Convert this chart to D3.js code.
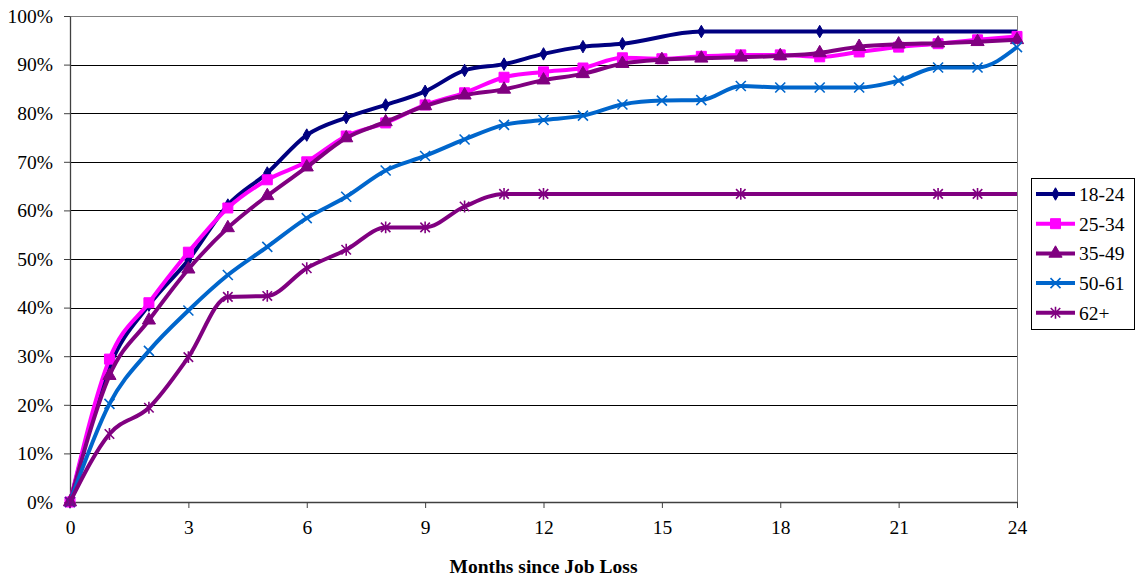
<!DOCTYPE html>
<html>
<head>
<meta charset="utf-8">
<script src="https://cdn.jsdelivr.net/npm/d3@7"></script>
<style>
  html, body { margin: 0; padding: 0; background: #fff; overflow: hidden; }
  svg { display: block; }
  text { font-family: "Liberation Serif", "Times New Roman", serif; fill: #000; }
</style>
</head>
<body>
<div id="chart"></div>
<script>
const width = 1136;
const height = 582;
const margin = { top: 16, right: 119, bottom: 80, left: 70 };
const innerWidth = width - margin.left - margin.right;
const innerHeight = height - margin.top - margin.bottom;

// share re-employed (%) by months since job loss, per age group
const seriesNames = ["18-24", "25-34", "35-49", "50-61", "62+"];

const monthsAll = d3.range(0, 25);

const months1824 = [0, 1, 2, 3, 4, 5, 6, 7, 8, 9, 10, 11, 12, 13, 14, 16, 19, 24];
const values1824 = [0, 27.8, 40.5, 49.8, 61.1, 67.7, 75.5, 79.1, 81.7, 84.5, 88.8, 90.1, 92.2, 93.7, 94.3, 96.8, 96.8, 96.8];

const values2534 = [0, 29.4, 41, 51.4, 60.5, 66.3, 70, 75.3, 78, 81.7, 84.2, 87.4, 88.5, 89.3, 91.4, 91.2, 91.7, 92, 92, 91.6, 92.6, 93.6, 94.3, 95.1, 95.8];

const values3549 = [0, 26, 37.4, 47.9, 56.4, 63, 68.9, 74.9, 78.2, 81.5, 83.7, 84.9, 86.8, 88.1, 90.2, 91, 91.3, 91.5, 91.8, 92.4, 93.7, 94.2, 94.4, 94.7, 95.1];

const values5061 = [0, 20.2, 31.1, 39.4, 46.7, 52.5, 58.4, 62.8, 68.2, 71.2, 74.6, 77.6, 78.6, 79.5, 81.8, 82.6, 82.7, 85.6, 85.3, 85.3, 85.3, 86.7, 89.4, 89.4, 93.6];

const months62 = [0, 1, 2, 3, 4, 5, 6, 7, 8, 9, 10, 11, 12, 17, 22, 23, 24];
const values62 = [0, 14, 19.4, 29.8, 42.2, 42.4, 48.1, 51.9, 56.5, 56.5, 60.8, 63.4, 63.4, 63.4, 63.4, 63.4, 63.4];

const xTicks = d3.range(0, 25, 3);
const yTicks = d3.range(0, 101, 10);
const xTitle = "Months since Job Loss";

const colors = ["#000080", "#ff00ff", "#800080", "#0066cc", "#800080"];

// marker shapes
const symX = {
  draw(ctx, size) {
    const r = Math.sqrt(size) / 2;
    ctx.moveTo(-r, -r); ctx.lineTo(r, r);
    ctx.moveTo(-r, r); ctx.lineTo(r, -r);
  }
};
const symStar = {
  draw(ctx, size) {
    const r = Math.sqrt(size) / 2;
    ctx.moveTo(-r, -r); ctx.lineTo(r, r);
    ctx.moveTo(-r, r); ctx.lineTo(r, -r);
    ctx.moveTo(0, -r * 1.25); ctx.lineTo(0, r * 1.25);
  }
};
const markers = [
  { type: d3.symbolDiamond, size: 45, filled: true },
  { type: d3.symbolSquare, size: 100, filled: true },
  { type: d3.symbolTriangle, size: 75, filled: true },
  { type: symX, size: 100, filled: false },
  { type: symStar, size: 90, filled: false }
];

// the flat tails of 18-24 and 62+ run to the plot edge without an end marker
const endMarker = [false, true, true, true, false];

const series = [
  { months: months1824, values: values1824 },
  { months: monthsAll, values: values2534 },
  { months: monthsAll, values: values3549 },
  { months: monthsAll, values: values5061 },
  { months: months62, values: values62 }
].map((s, i) => ({
  name: seriesNames[i],
  color: colors[i],
  marker: markers[i],
  endMarker: endMarker[i],
  points: s.months.map((m, j) => ({ m, v: s.values[j] }))
}));

const svg = d3.select("#chart")
  .append("svg")
  .attr("width", width)
  .attr("height", height)
  .attr("viewBox", [0, 0, width, height]);

const innerChart = svg.append("g")
  .attr("transform", `translate(${margin.left}, ${margin.top})`);

const xScale = d3.scaleLinear().domain([0, 24]).range([0, innerWidth]);
const yScale = d3.scaleLinear().domain([0, 100]).range([innerHeight, 0]);

// gridlines
innerChart.append("g")
  .selectAll("line")
  .data(yTicks.filter(d => d > 0))
  .join("line")
  .attr("x1", 0)
  .attr("x2", innerWidth)
  .attr("y1", d => Math.round(yScale(d)) + 0.5)
  .attr("y2", d => Math.round(yScale(d)) + 0.5)
  .attr("stroke", d => d === 100 ? "#808080" : "#000")
  .attr("stroke-width", 1);

// plot border (right)
innerChart.append("line")
  .attr("x1", innerWidth + 0.5).attr("x2", innerWidth + 0.5)
  .attr("y1", 0).attr("y2", innerHeight)
  .attr("stroke", "#808080");

// axes
const xAxis = d3.axisBottom(xScale)
  .tickValues(xTicks)
  .tickSize(6)
  .tickPadding(12)
  .tickSizeOuter(0);

const yAxis = d3.axisLeft(yScale)
  .tickValues(yTicks)
  .tickFormat(d => d + "%")
  .tickSize(6)
  .tickPadding(11)
  .tickSizeOuter(0);

const gx = innerChart.append("g")
  .attr("transform", `translate(0, ${innerHeight})`)
  .call(xAxis);

const gy = innerChart.append("g")
  .call(yAxis);

[gx, gy].forEach(g => {
  g.attr("font-size", null).attr("font-family", null);
  g.select(".domain").attr("stroke", "#404040").attr("stroke-width", 1.3);
  g.selectAll(".tick line").attr("stroke", "#404040");
  g.selectAll(".tick text")
    .attr("fill", "#000")
    .style("font-family", '"Liberation Serif", "Times New Roman", serif')
    .style("font-size", "19.5px");
});

svg.append("text")
  .attr("x", margin.left + innerWidth / 2)
  .attr("y", 573)
  .attr("text-anchor", "middle")
  .style("font-size", "19.5px")
  .style("font-weight", "bold")
  .text(xTitle);

// lines
const line = d3.line()
  .x(d => xScale(d.m))
  .y(d => yScale(d.v))
  .curve(d3.curveMonotoneX);

const layer = innerChart.selectAll("g.series")
  .data(series)
  .join("g")
  .attr("class", "series");

layer.append("path")
  .attr("d", d => line(d.points))
  .attr("fill", "none")
  .attr("stroke", d => d.color)
  .attr("stroke-width", 4)
  .attr("stroke-linejoin", "round")
  .attr("stroke-linecap", "butt");

layer.selectAll("path.mark")
  .data(d => {
    const pts = d.endMarker ? d.points : d.points.slice(0, -1);
    return pts.map(p => ({ p, s: d }));
  })
  .join("path")
  .attr("class", "mark")
  .attr("transform", d => `translate(${xScale(d.p.m)}, ${yScale(d.p.v)})`)
  .attr("d", d => d3.symbol().type(d.s.marker.type).size(d.s.marker.size)())
  .attr("fill", d => d.s.marker.filled ? d.s.color : "none")
  .attr("stroke", d => d.s.color)
  .attr("stroke-width", d => d.s.marker.filled ? 1 : 1.6);

// legend
const legend = svg.append("g")
  .attr("transform", "translate(1031, 178)");

legend.append("rect")
  .attr("x", 0.5).attr("y", 0.5)
  .attr("width", 103).attr("height", 151)
  .attr("fill", "#fff")
  .attr("stroke", "#000")
  .attr("stroke-width", 1);

const rows = legend.selectAll("g.row")
  .data(series)
  .join("g")
  .attr("class", "row")
  .attr("transform", (d, i) => `translate(0, ${16 + i * 29.7})`);

rows.append("line")
  .attr("x1", 5).attr("x2", 44)
  .attr("stroke", d => d.color)
  .attr("stroke-width", 4);

rows.append("path")
  .attr("transform", "translate(24.5, 0)")
  .attr("d", d => d3.symbol().type(d.marker.type).size(d.marker.size)())
  .attr("fill", d => d.marker.filled ? d.color : "none")
  .attr("stroke", d => d.color)
  .attr("stroke-width", d => d.marker.filled ? 1 : 1.6);

rows.append("text")
  .attr("x", 48)
  .attr("y", 0)
  .attr("dy", "0.35em")
  .style("font-size", "19.5px")
  .text(d => d.name);
</script>
</body>
</html>
